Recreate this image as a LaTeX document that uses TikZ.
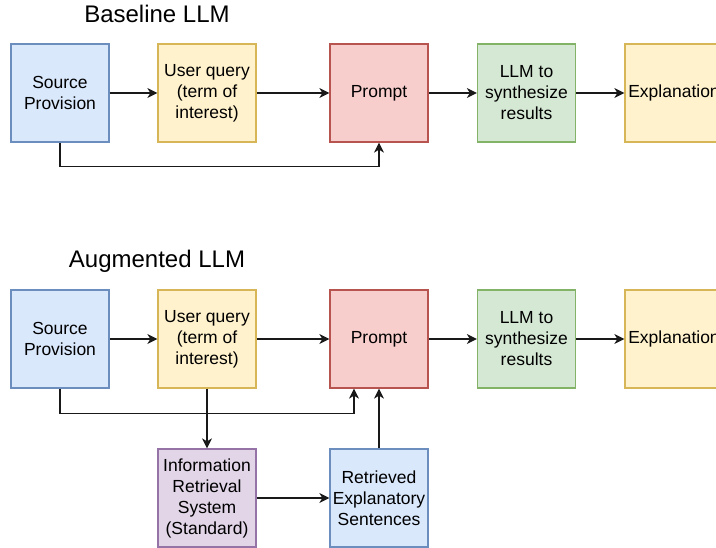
\documentclass[tikz,border=0pt]{standalone}
\usepackage{fontspec}
\setmainfont{Liberation Sans}
\usetikzlibrary{arrows.meta}

\definecolor{bluefill}{HTML}{DAE8FC}\definecolor{bluedraw}{HTML}{6C8EBF}
\definecolor{yellowfill}{HTML}{FFF2CC}\definecolor{yellowdraw}{HTML}{D6B656}
\definecolor{redfill}{HTML}{F8CECC}\definecolor{reddraw}{HTML}{B85450}
\definecolor{greenfill}{HTML}{D5E8D4}\definecolor{greendraw}{HTML}{82B366}
\definecolor{purplefill}{HTML}{E1D5E7}\definecolor{purpledraw}{HTML}{9673A6}

\tikzset{
  blk/.style={draw, line width=1.3pt, minimum width=98pt, minimum height=98pt,
    inner sep=0pt, align=center, font=\fontsize{17.5}{21}\selectfont},
  blu/.style={blk, fill=bluefill, draw=bluedraw},
  ylw/.style={blk, fill=yellowfill, draw=yellowdraw},
  rd/.style={blk, fill=redfill, draw=reddraw},
  grn/.style={blk, fill=greenfill, draw=greendraw},
  prp/.style={blk, fill=purplefill, draw=purpledraw},
  ttl/.style={anchor=base, font=\fontsize{24}{28}\selectfont},
  arr/.style={line width=1.3pt, black!90, -{Stealth[length=10pt,width=10pt,inset=3pt]}},
}

\begin{document}
\begin{tikzpicture}[x=1pt,y=-1pt]
  \useasboundingbox (0,0) rectangle (716,548);

  % baseline
  \node[ttl] (t1) at (157,22.7) {Baseline LLM};
  \node[blu] (src1) at (60,93) {Source\\Provision};
  \node[ylw] (query1) at (207,93) {User query\\(term of\\interest)};
  \node[rd] (prompt1) at (379,93) {Prompt};
  \node[grn] (llm1) at (526.5,93) {LLM to\\synthesize\\results};
  \node[ylw] (expl1) at (674,93) {Explanation};
  \draw[arr] (src1) to (query1) {};
  \draw[arr] (query1) to (prompt1) {};
  \draw[arr] (prompt1) to (llm1) {};
  \draw[arr] (llm1) to (expl1) {};
  \draw[arr] (src1.south) -- ++(0,24) -| (prompt1.south);

  % augmented
  \node[ttl] (t2) at (157,267.3) {Augmented LLM};
  \node[blu] (src2) at (60,339) {Source\\Provision};
  \node[ylw] (query2) at (207,339) {User query\\(term of\\interest)};
  \node[rd] (prompt2) at (379,339) {Prompt};
  \node[grn] (llm2) at (526.5,339) {LLM to\\synthesize\\results};
  \node[ylw] (expl2) at (674,339) {Explanation};
  \draw[arr] (src2) to (query2) {};
  \draw[arr] (query2) to (prompt2) {};
  \draw[arr] (prompt2) to (llm2) {};
  \draw[arr] (llm2) to (expl2) {};
  \draw[arr] (src2.south) -- ++(0,25) -| ([xshift=-25pt]prompt2.south);

  \node[prp] (irs) at (207,498) {Information\\Retrieval\\System\\(Standard)};
  \node[blu] (sent) at (379,498) {Retrieved\\Explanatory\\Sentences};
  \draw[arr] (query2) to (irs) {};
  \draw[arr] (irs) to (sent) {};
  \draw[arr] (sent) to (prompt2) {};
\end{tikzpicture}
\end{document}
